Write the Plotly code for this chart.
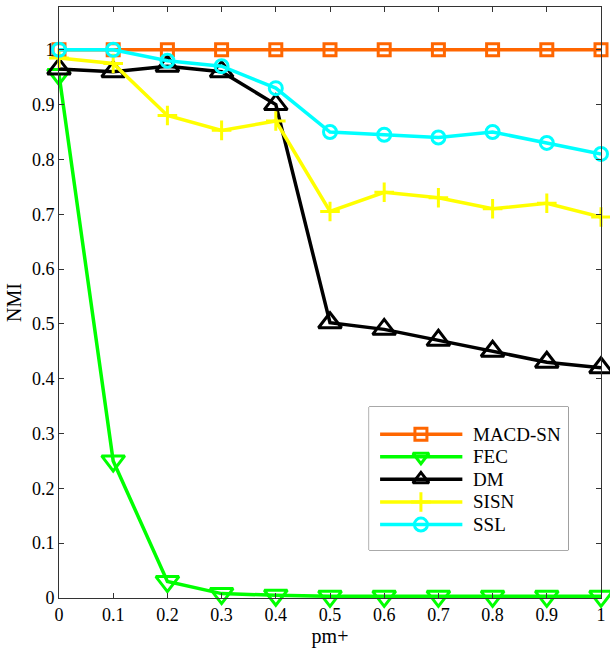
import plotly.graph_objects as go

pm = [0, 0.1, 0.2, 0.3, 0.4, 0.5, 0.6, 0.7, 0.8, 0.9, 1.0]
macd_sn = [1.0, 1.0, 1.0, 1.0, 1.0, 1.0, 1.0, 1.0, 1.0, 1.0, 1.0]
fec = [0.955, 0.25, 0.03, 0.008, 0.005, 0.003, 0.003, 0.003, 0.003, 0.003, 0.003]
dm = [0.965, 0.96, 0.97, 0.96, 0.90, 0.502, 0.49, 0.47, 0.45, 0.43, 0.42]
sisn = [0.985, 0.975, 0.88, 0.853, 0.87, 0.705, 0.74, 0.73, 0.71, 0.72, 0.695]
ssl = [1.0, 1.0, 0.98, 0.97, 0.93, 0.85, 0.845, 0.84, 0.85, 0.83, 0.81]

xticks = [0, 0.1, 0.2, 0.3, 0.4, 0.5, 0.6, 0.7, 0.8, 0.9, 1.0]
xticklabels = ["0", "0.1", "0.2", "0.3", "0.4", "0.5", "0.6", "0.7", "0.8", "0.9", "1"]
yticks = [0, 0.1, 0.2, 0.3, 0.4, 0.5, 0.6, 0.7, 0.8, 0.9, 1.0]
yticklabels = ["0", "0.1", "0.2", "0.3", "0.4", "0.5", "0.6", "0.7", "0.8", "0.9", "1"]

series = [
    ("MACD-SN", macd_sn, "#FF6600", "square-open", 12),
    ("FEC", fec, "#00FF00", "triangle-down-open", 20),
    ("DM", dm, "#000000", "triangle-up-open", 20),
    ("SISN", sisn, "#FFFF00", "cross-thin-open", 14),
    ("SSL", ssl, "#00FFFF", "circle-open", 13),
]

font = "Liberation Serif"
fig = go.Figure()
for name, vals, color, sym, size in series:
    fig.add_trace(go.Scatter(
        x=pm, y=vals, name=name, mode="lines+markers",
        line=dict(color=color, width=3.5),
        marker=dict(symbol=sym, size=size, color=color, line=dict(color=color, width=3)),
        cliponaxis=False, showlegend=False,
    ))

# custom legend drawn on an overlay axis (local 0-100 coordinates)
row0, rowstep = 19.0, 15.8
for i, (name, vals, color, sym, size) in enumerate(series):
    yy = row0 + i * rowstep
    fig.add_trace(go.Scatter(
        x=[5.5, 46.8], y=[yy, yy], mode="lines", xaxis="x2", yaxis="y2",
        line=dict(color=color, width=3.5), showlegend=False, hoverinfo="skip",
    ))
    fig.add_trace(go.Scatter(
        x=[26], y=[yy], mode="markers", xaxis="x2", yaxis="y2",
        marker=dict(symbol=sym, size=min(size, 14), color=color, line=dict(color=color, width=3)),
        showlegend=False, hoverinfo="skip",
    ))
    fig.add_annotation(x=51, y=yy, xref="x2", yref="y2", text=name, showarrow=False,
                       xanchor="left", yanchor="middle",
                       font=dict(family=font, size=19, color="black"))

fig.add_shape(type="rect", xref="x2 domain", yref="y2 domain", x0=0, x1=1, y0=0, y1=1,
              line=dict(color="#555", width=1), fillcolor="white", layer="below")

axis_common = dict(
    tickmode="array", ticks="inside", ticklen=5, tickcolor="#333", showline=True,
    linecolor="#333", linewidth=1, mirror="ticks", showgrid=False, zeroline=False,
    tickfont=dict(family=font, size=18),
)

fig.update_layout(
    width=610, height=654,
    margin=dict(l=59, r=4, t=7, b=56),
    plot_bgcolor="white", paper_bgcolor="white",
    font=dict(family=font, size=18, color="black"),
    showlegend=False,
    xaxis=dict(range=[0, 1], tickvals=xticks, ticktext=xticklabels,
               ticklabeloverflow="allow",
               title=dict(text="pm+", font=dict(family=font, size=20), standoff=2),
               **axis_common),
    yaxis=dict(range=[0, 1.078], tickvals=yticks, ticktext=yticklabels,
               title=dict(text="NMI", font=dict(family=font, size=20), standoff=4),
               **axis_common),
    xaxis2=dict(domain=[0.5722, 0.9397], range=[0, 100], anchor="y2", visible=False, fixedrange=True),
    yaxis2=dict(domain=[0.0812, 0.3232], range=[100, 0], anchor="x2", visible=False, fixedrange=True),
)

fig.write_html("out.html")
